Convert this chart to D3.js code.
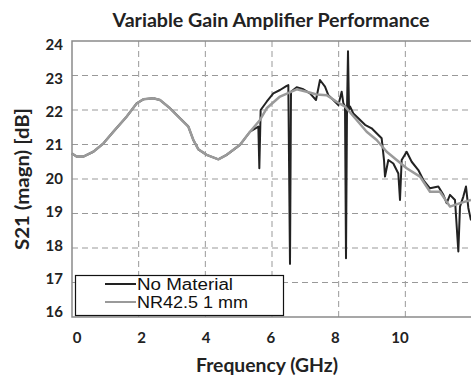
<!DOCTYPE html>
<html>
<head>
<meta charset="utf-8">
<script src="https://cdnjs.cloudflare.com/ajax/libs/d3/7.8.5/d3.min.js"></script>
<style>
body { margin: 0; background: #fff; }
</style>
</head>
<body>
<div id="chart"></div>
<script>
// data (GHz, dB)
var freqGray = [0, 0.14, 0.34, 0.64, 0.94, 1.24, 1.64, 1.94, 2.14, 2.44, 2.64, 2.94, 3.24, 3.49, 3.64, 3.79, 4.04, 4.39, 4.64, 5.04, 5.34, 5.64, 5.84, 6.24, 6.74, 7.04, 7.34, 7.64, 7.94, 8.19, 8.54, 8.84, 9.14, 9.44, 9.74, 10.04, 10.44, 10.74, 11.04, 11.34, 11.64, 11.97];
var s21Gray = [20.74, 20.65, 20.65, 20.79, 21.03, 21.37, 21.81, 22.19, 22.31, 22.34, 22.29, 22.05, 21.76, 21.52, 21.13, 20.86, 20.70, 20.57, 20.70, 20.99, 21.37, 21.71, 22.05, 22.39, 22.60, 22.53, 22.45, 22.43, 22.24, 22.10, 21.71, 21.37, 21.13, 20.79, 20.55, 20.31, 20.07, 19.63, 19.63, 19.20, 19.30, 19.39];

var freqBlack = [0, 0.14, 0.34, 0.64, 0.94, 1.24, 1.64, 1.94, 2.14, 2.44, 2.64, 2.94, 3.24, 3.49, 3.64, 3.79, 4.04, 4.39, 4.64, 5.04, 5.34, 5.59, 5.62, 5.66, 5.84, 6.04, 6.24, 6.44, 6.49, 6.54, 6.57, 6.74, 6.94, 7.14, 7.32, 7.44, 7.59, 7.69, 7.84, 7.99, 8.09, 8.14, 8.19, 8.22, 8.25, 8.28, 8.31, 8.34, 8.44, 8.59, 8.79, 8.99, 9.04, 9.29, 9.36, 9.39, 9.49, 9.64, 9.79, 9.84, 9.89, 10.04, 10.19, 10.39, 10.54, 10.74, 10.99, 11.14, 11.24, 11.34, 11.49, 11.59, 11.64, 11.74, 11.82, 11.89, 11.97];
var s21Black = [20.74, 20.65, 20.65, 20.79, 21.03, 21.37, 21.81, 22.19, 22.31, 22.34, 22.29, 22.05, 21.76, 21.52, 21.13, 20.86, 20.70, 20.57, 20.70, 20.99, 21.37, 21.52, 20.31, 22.00, 22.24, 22.48, 22.58, 22.70, 22.72, 17.54, 22.53, 22.66, 22.60, 22.48, 22.29, 22.87, 22.68, 22.43, 22.29, 22.14, 22.53, 22.20, 22.10, 17.70, 22.00, 23.70, 22.00, 22.10, 21.90, 21.76, 21.57, 21.47, 21.42, 21.18, 20.55, 20.07, 20.55, 20.45, 20.16, 19.39, 20.55, 20.79, 20.50, 20.26, 19.97, 19.73, 19.78, 19.54, 19.30, 19.54, 19.39, 17.90, 19.20, 19.49, 19.78, 19.16, 18.80];

var xTicks = [0, 2, 4, 6, 8, 10];
var yTicks = [16, 17, 18, 19, 20, 21, 22, 23, 24];
var seriesNames = ["No Material", "NR42.5 1 mm"];

var w = 471, h = 376;

var svg = d3.select("#chart").append("svg")
  .attr("width", w)
  .attr("height", h);

// scales
var x = d3.scaleLinear().domain([0, 12]).range([72, 472]);
var y = d3.scaleLinear().domain([16, 24]).range([317, 41]);
// tick labels sit on a slightly different spacing than the grid in the picture
var xLab = d3.scaleLinear().domain([0, 10]).range([77, 400]);
var yLab = d3.scaleLinear().domain([16, 24]).range([312, 45]);

// grid lines
svg.append("g").selectAll("line")
  .data([2, 4, 6, 8, 10])
  .enter().append("line")
  .attr("x1", function(d) { return x(d); })
  .attr("x2", function(d) { return x(d); })
  .attr("y1", y(24))
  .attr("y2", y(16))
  .attr("stroke", "#999")
  .attr("stroke-dasharray", "6,4");

svg.append("g").selectAll("line")
  .data([17, 18, 19, 20, 21, 22, 23])
  .enter().append("line")
  .attr("x1", x(0))
  .attr("x2", x(12))
  .attr("y1", function(d) { return y(d); })
  .attr("y2", function(d) { return y(d); })
  .attr("stroke", "#999")
  .attr("stroke-dasharray", "6,4");

// plot frame
svg.append("rect")
  .attr("x", x(0))
  .attr("y", y(24))
  .attr("width", x(12) - x(0))
  .attr("height", y(16) - y(24))
  .attr("fill", "none")
  .attr("stroke", "#8a8a8a")
  .attr("stroke-width", 1.5);

// lines
var line = d3.line()
  .x(function(d) { return x(d[0]); })
  .y(function(d) { return y(d[1]); });

svg.append("path")
  .datum(d3.zip(freqBlack, s21Black))
  .attr("d", line)
  .attr("fill", "none")
  .attr("stroke", "#222")
  .attr("stroke-width", 2)
  .attr("stroke-linejoin", "round");

svg.append("path")
  .datum(d3.zip(freqGray, s21Gray))
  .attr("d", line)
  .attr("fill", "none")
  .attr("stroke", "#9a9a9a")
  .attr("stroke-width", 2.5)
  .attr("stroke-linejoin", "round");

// tick labels
svg.append("g").selectAll("text")
  .data(xTicks)
  .enter().append("text")
  .attr("x", function(d) { return xLab(d); })
  .attr("y", 343)
  .attr("text-anchor", "middle")
  .style("font", "bold 15px Lato, sans-serif")
  .attr("fill", "#222")
  .text(function(d) { return d; });

svg.append("g").selectAll("text")
  .data(yTicks)
  .enter().append("text")
  .attr("x", 63)
  .attr("y", function(d) { return yLab(d); })
  .attr("dy", "0.35em")
  .attr("text-anchor", "end")
  .style("font", "bold 15px Lato, sans-serif")
  .attr("fill", "#222")
  .text(function(d) { return d; });

// titles
svg.append("text")
  .attr("x", 271)
  .attr("y", 27)
  .attr("text-anchor", "middle")
  .attr("textLength", 317)
  .attr("lengthAdjust", "spacingAndGlyphs")
  .style("font", "bold 19px Lato, sans-serif")
  .attr("fill", "#222")
  .text("Variable Gain Amplifier Performance");

svg.append("text")
  .attr("x", 267)
  .attr("y", 372)
  .attr("text-anchor", "middle")
  .attr("textLength", 142)
  .attr("lengthAdjust", "spacingAndGlyphs")
  .style("font", "bold 18px Lato, sans-serif")
  .attr("fill", "#222")
  .text("Frequency (GHz)");

svg.append("text")
  .attr("transform", "translate(29,179) rotate(-90)")
  .attr("text-anchor", "middle")
  .attr("textLength", 142)
  .attr("lengthAdjust", "spacingAndGlyphs")
  .style("font", "bold 18px Lato, sans-serif")
  .attr("fill", "#222")
  .text("S21 (magn) [dB]");

// legend
var legend = svg.append("g");
legend.append("rect")
  .attr("x", 75.5)
  .attr("y", 275.5)
  .attr("width", 208)
  .attr("height", 40)
  .attr("fill", "#fff")
  .attr("stroke", "#111")
  .attr("stroke-width", 1.2);

var legendColors = ["#222", "#9a9a9a"];
var legendWidths = [96, 111];
seriesNames.forEach(function(name, i) {
  var ly = 284 + i * 18;
  legend.append("line")
    .attr("x1", 105).attr("x2", 136)
    .attr("y1", ly).attr("y2", ly)
    .attr("stroke", legendColors[i])
    .attr("stroke-width", 2);
  legend.append("text")
    .attr("x", 137)
    .attr("y", ly + 6)
    .attr("textLength", legendWidths[i])
    .attr("lengthAdjust", "spacingAndGlyphs")
    .style("font", "16px 'Liberation Sans', Arial, sans-serif")
    .attr("fill", "#111")
    .text(name);
});
</script>
</body>
</html>
